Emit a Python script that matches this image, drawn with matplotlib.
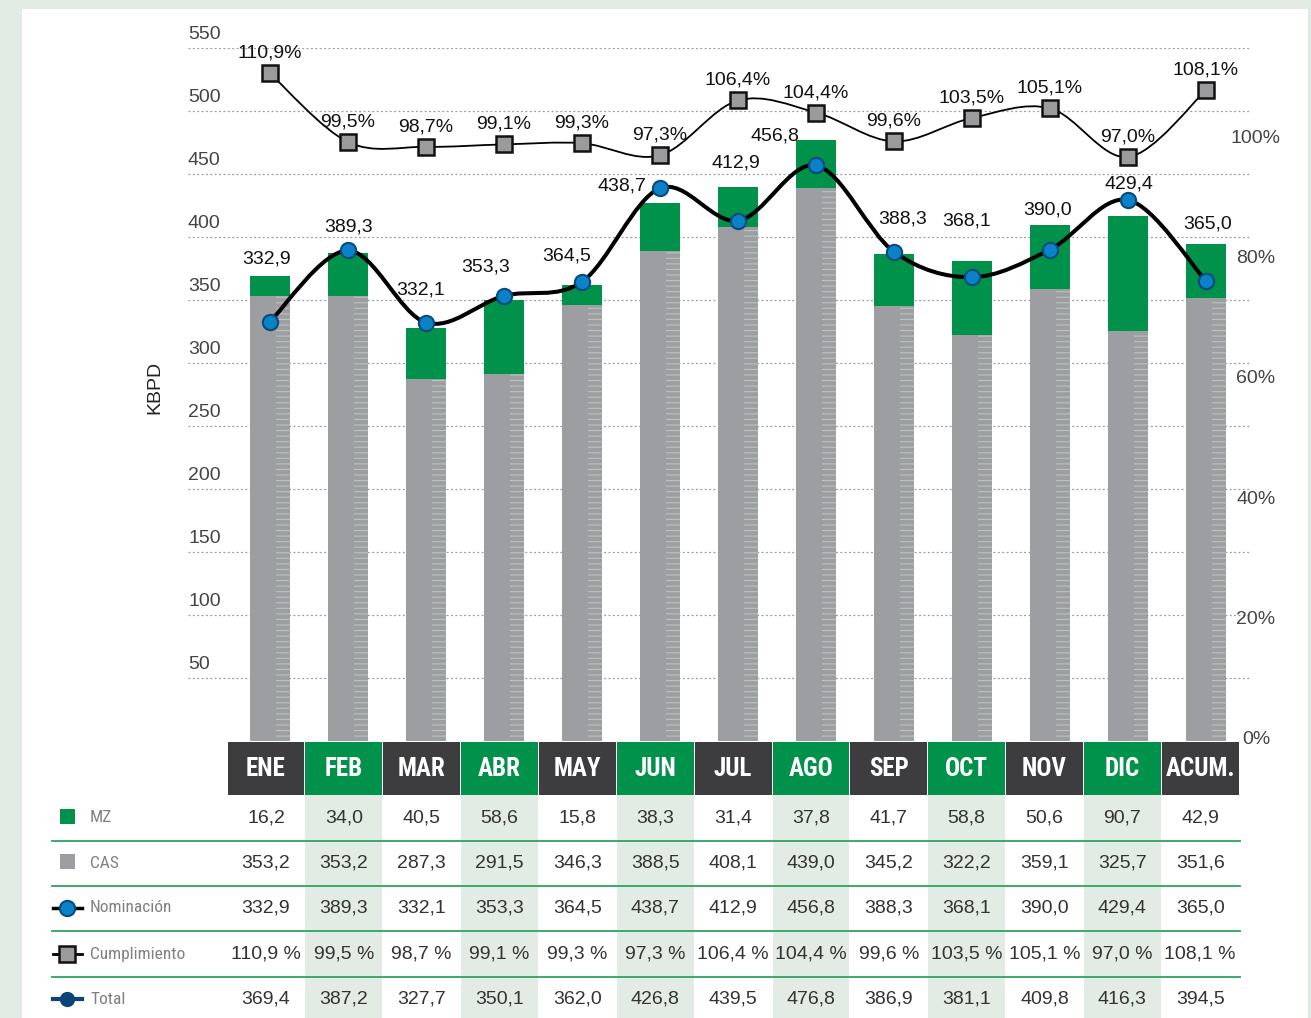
import matplotlib
matplotlib.use("Agg")
import matplotlib.pyplot as plt
from matplotlib.path import Path
from matplotlib.patches import PathPatch, Rectangle
from matplotlib import font_manager

# ---------------- data ----------------
months = ["ENE", "FEB", "MAR", "ABR", "MAY", "JUN", "JUL", "AGO", "SEP", "OCT", "NOV", "DIC", "ACUM."]
mz = [16.2, 34.0, 40.5, 58.6, 15.8, 38.3, 31.4, 37.8, 41.7, 58.8, 50.6, 90.7, 42.9]
cas = [353.2, 353.2, 287.3, 291.5, 346.3, 388.5, 408.1, 439.0, 345.2, 322.2, 359.1, 325.7, 351.6]
nominacion = [332.9, 389.3, 332.1, 353.3, 364.5, 438.7, 412.9, 456.8, 388.3, 368.1, 390.0, 429.4, 365.0]
cumplimiento = [110.9, 99.5, 98.7, 99.1, 99.3, 97.3, 106.4, 104.4, 99.6, 103.5, 105.1, 97.0, 108.1]
total = [369.4, 387.2, 327.7, 350.1, 362.0, 426.8, 439.5, 476.8, 386.9, 381.1, 409.8, 416.3, 394.5]
left_ticks = [50, 100, 150, 200, 250, 300, 350, 400, 450, 500, 550]
right_ticks = [0, 20, 40, 60, 80, 100]
row_names = ["MZ", "CAS", "Nominación", "Cumplimiento", "Total"]

# label offsets (pixels, screen-down positive) for Nominación labels
nom_off = [(-3, -63), (1, -23), (-5, -33), (-18, -29), (-15, -26), (-38, -2), (-2, -58),
           (-41, -29), (9, -33), (-5, -56), (-2, -40), (1, -16), (2, -57)]

# ---------------- style ----------------
names = {f.name for f in font_manager.fontManager.ttflist}
narrow = None
for cand in ["Liberation Sans Narrow", "Roboto Condensed", "Open Sans Condensed", "Noto Sans Condensed"]:
    if cand in names:
        narrow = cand
        break
base = "Liberation Sans"
plt.rcParams["font.family"] = [base, "DejaVu Sans"]
hdr_family = [narrow, "DejaVu Sans"] if narrow else [base, "DejaVu Sans"]
hdr_size = 18 if narrow else 16
row_family = [narrow, "DejaVu Sans"] if narrow else [base, "DejaVu Sans"]
row_size = 12.5 if narrow else 11

GREEN = "#00924a"
GRAY = "#9d9ea2"
DARK = "#3d3d3f"
LIGHT = "#e3ece4"
BLUE = "#0a82c8"
NAVY = "#0b4478"
TXT = "#333333"

W, H = 1311, 1018
fig = plt.figure(figsize=(W / 100, H / 100), dpi=100)
fig.patch.set_facecolor(LIGHT)

# white panel
bg = fig.add_axes([0, 0, 1, 1])
bg.set_xlim(0, W)
bg.set_ylim(H, 0)
bg.axis("off")
bg.add_patch(Rectangle((22, 9), 1286, H, facecolor="white", edgecolor="none"))

# main axes geometry in pixels
X0, X1 = 188, 1250
Y_TOP, Y_ZERO = 48, 741
C0, STEP = 270, 78
ax = fig.add_axes([X0 / W, 1 - Y_ZERO / H, (X1 - X0) / W, (Y_ZERO - Y_TOP) / H])
ax.set_facecolor("none")
ax.set_xlim((X0 - C0) / STEP, (X1 - C0) / STEP)
ax.set_ylim(0, 550)
for s in ax.spines.values():
    s.set_visible(False)
ax.set_xticks([])
ax.set_yticks([])

# gridlines + left labels
for t in left_ticks:
    ax.axhline(t, color="#9a9a9a", lw=0.9, ls=(0, (1.5, 2)), zorder=0)
    ax.annotate(str(t), xy=(0, t), xycoords=("axes fraction", "data"),
                xytext=(0, 5), textcoords="offset pixels", ha="left", va="bottom",
                fontsize=14, color="#444444")
ax.text(-0.031, 0.51, "KBPD", transform=ax.transAxes, rotation=90, ha="center", va="center",
        fontsize=14, color="#222222")

x = list(range(len(months)))
bw = 0.52
ax.bar(x, cas, width=bw, color=GRAY, zorder=2)
ax.bar(x, mz, width=bw, bottom=cas, color=GREEN, zorder=2)
# subtle striped sheen on the right of the gray part
plt.rcParams["hatch.linewidth"] = 0.8
ax.bar([i + bw * 0.33 for i in x], cas, width=bw * 0.34, color="none", edgecolor="#b9c4bb",
       hatch="---", lw=0, zorder=2.1)


def smooth_path(xs, ys):
    verts = [(xs[0], ys[0])]
    codes = [Path.MOVETO]
    n = len(xs)
    for i in range(n - 1):
        p0 = (xs[max(i - 1, 0)], ys[max(i - 1, 0)])
        p1 = (xs[i], ys[i])
        p2 = (xs[i + 1], ys[i + 1])
        p3 = (xs[min(i + 2, n - 1)], ys[min(i + 2, n - 1)])
        c1 = (p1[0] + (p2[0] - p0[0]) / 6, p1[1] + (p2[1] - p0[1]) / 6)
        c2 = (p2[0] - (p3[0] - p1[0]) / 6, p2[1] - (p3[1] - p1[1]) / 6)
        verts += [c1, c2, p2]
        codes += [Path.CURVE4] * 3
    return Path(verts, codes)


# Nominación
ax.add_patch(PathPatch(smooth_path(x, nominacion), fill=False, edgecolor="black", lw=2.9,
                       zorder=3, capstyle="round"))
ax.plot(x, nominacion, ls="none", marker="o", ms=11, mfc=BLUE, mec="#0b4a7a", mew=1.5, zorder=4)
for i, v in enumerate(nominacion):
    dx, dy = nom_off[i]
    ax.annotate(f"{v:.1f}".replace(".", ","), xy=(i, v), xytext=(dx, -dy),
                textcoords="offset pixels", ha="center", va="center", fontsize=14, color="#111111",
                zorder=5)

# Cumplimiento on secondary axis
ax2 = ax.twinx()
ax2.set_facecolor("none")
ax2.set_ylim(0, (Y_ZERO - Y_TOP) / 6.02)
ax2.set_xlim(ax.get_xlim())
for s in ax2.spines.values():
    s.set_visible(False)
ax2.set_yticks([])
ax2.add_patch(PathPatch(smooth_path(x, cumplimiento), fill=False, edgecolor="black", lw=1.3, zorder=3))
ax2.plot(x, cumplimiento, ls="none", marker="s", ms=12, mfc="#9b9b9e", mec="#111111", mew=1.8, zorder=4)
for i, v in enumerate(cumplimiento):
    ax2.annotate(f"{v:.1f}%".replace(".", ","), xy=(i, v), xytext=(0, 20),
                 textcoords="offset pixels", ha="center", va="center", fontsize=14, color="#111111")
for t in right_ticks:
    ax2.annotate(f"{t}%", xy=(1, t), xycoords=("axes fraction", "data"), xytext=(6, 1),
                 textcoords="offset pixels", ha="center", va="center", fontsize=14, color="#444444")

# ---------------- table (pixel space on bg axes) ----------------
HDR_TOP, HDR_BOT = 742, 795
T0, TSTEP = 266, 77.85
ROW_Y = [818, 863, 908, 954, 999]
SEP_Y = [841, 886, 931, 977]
for i, m in enumerate(months):
    cx = T0 + TSTEP * i
    is_green = (i % 2 == 1)
    col = GREEN if is_green else DARK
    bg.add_patch(Rectangle((cx - TSTEP / 2 + 0.5, HDR_TOP), TSTEP - 1, HDR_BOT - HDR_TOP,
                           facecolor=col, edgecolor="none", zorder=2))
    if is_green:
        bg.add_patch(Rectangle((cx - TSTEP / 2 + 0.5, HDR_BOT), TSTEP - 1, H - HDR_BOT,
                               facecolor=LIGHT, edgecolor="none", zorder=1))
    bg.text(cx, (HDR_TOP + HDR_BOT) / 2 + 1, m, ha="center", va="center", color="white",
            fontsize=hdr_size, fontweight="bold", family=hdr_family, zorder=3)
    vals = [f"{mz[i]:.1f}", f"{cas[i]:.1f}", f"{nominacion[i]:.1f}",
            f"{cumplimiento[i]:.1f} %", f"{total[i]:.1f}"]
    for ry, s in zip(ROW_Y, vals):
        bg.text(cx, ry, s.replace(".", ","), ha="center", va="center", fontsize=14, color=TXT, zorder=3)

for sy in SEP_Y:
    bg.plot([52, 1240], [sy, sy], color="#2ea35f", lw=1.3, zorder=3)

# row legends
for ry, name in zip(ROW_Y, row_names):
    bg.text(90, ry, name, ha="left", va="center", fontsize=row_size, family=row_family,
            color="#808080", zorder=3)
bg.add_patch(Rectangle((60, ROW_Y[0] - 9), 15, 15, facecolor=GREEN, edgecolor="none", zorder=3))
bg.add_patch(Rectangle((60, ROW_Y[1] - 9), 15, 15, facecolor=GRAY, edgecolor="none", zorder=3))
bg.plot([53, 82], [ROW_Y[2], ROW_Y[2]], color="black", lw=2.5, zorder=3)
bg.plot([67], [ROW_Y[2]], marker="o", ms=11, mfc=BLUE, mec="#0b4a7a", mew=1.5, zorder=4)
bg.plot([53, 82], [ROW_Y[3], ROW_Y[3]], color="black", lw=2, zorder=3)
bg.plot([67], [ROW_Y[3]], marker="s", ms=12, mfc="#9b9b9e", mec="#111111", mew=1.8, zorder=4)
bg.plot([53, 82], [ROW_Y[4], ROW_Y[4]], color=NAVY, lw=3, zorder=3)
bg.plot([67], [ROW_Y[4]], marker="o", ms=10, mfc=NAVY, mec=NAVY, zorder=4)

fig.savefig("out.png", dpi=100, facecolor=fig.get_facecolor())
